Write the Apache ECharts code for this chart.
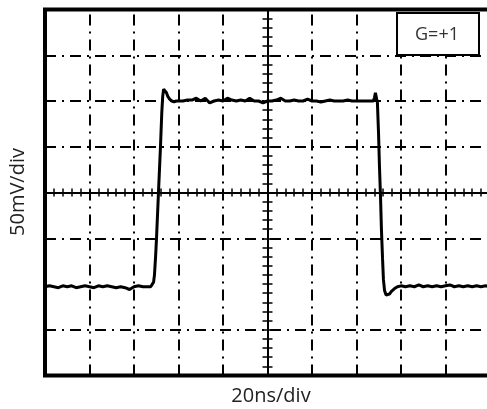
<!DOCTYPE html>
<html>
<head>
<meta charset="utf-8">
<script src="https://cdn.jsdelivr.net/npm/echarts/dist/echarts.min.js"></script>
<style>
	html, body { margin: 0; padding: 0; background: #fff; }
	#scope { width: 487px; height: 409px; }
</style>
</head>
<body>
<div id="scope"></div>
<script>
// scope trace, 20 ns/div and 50 mV/div
var lowLeftNs = [-100, -98, -96, -94, -92, -90, -88, -86, -84, -82, -80, -78, -76, -74, -72, -70, -68, -66, -64, -62, -60, -58, -56, -54];
var lowLeftMv = [-103, -102, -103, -104, -102, -103, -102, -104, -103, -102, -103, -104, -102, -103, -102, -103, -104, -103, -104, -106, -103, -102, -103, -103];

var riseNs = [-52.5, -51.7, -51.2, -50.8, -50.3, -49.9, -49, -48.1, -47.5, -47.1, -46.7, -46.3, -45.9, -45.4, -44.8, -44, -43, -42, -41];
var riseMv = [-103, -102, -98, -90, -70, -51, 0, 50, 88, 105, 113, 115, 113, 109, 105, 102, 100, 99, 100];

var highNs = [-40, -38, -36, -34, -32, -30, -28, -26, -24, -22, -20, -18, -16, -14, -12, -10, -8, -6, -4, -2, 0, 2, 4, 6, 8, 10, 12, 14, 16, 18, 20, 22, 24, 26, 28, 30, 32, 34, 36, 38, 40, 42, 44, 46, 47.6];
var highMv = [100, 100, 101, 101, 103, 100, 103, 98, 100, 101, 100, 103, 101, 100, 101, 100, 103, 100, 100, 98, 100, 100, 101, 103, 100, 100, 101, 100, 100, 102, 100, 100, 99, 100, 101, 100, 100, 100, 101, 100, 100, 100, 100, 100, 100];

var fallNs = [48.1, 48.5, 49, 49.4, 49.9, 50.3, 50.8, 51.2, 51.7, 52.1, 52.6, 53.3, 53.9, 54.8, 55.7, 57.1, 58.4];
var fallMv = [104, 109, 107, 98, 65, 30, -5, -40, -72, -95, -107, -112, -113, -111, -108, -105, -103];

var lowRightNs = [60, 62, 64, 66, 68, 70, 72, 74, 76, 78, 80, 82, 84, 86, 88, 90, 92, 94, 96, 98, 100];
var lowRightMv = [-102, -103, -102, -103, -101, -103, -102, -103, -102, -103, -102, -101, -103, -102, -103, -102, -103, -102, -103, -102, -103];

// graticule: dash-dot lines at these divisions (the -100 mV one is not drawn in the original)
var gridNs = [-80, -60, -40, -20, 20, 40, 60, 80];
var gridMv = [150, 100, 50, -50, -150];

var xLabel = '20ns/div';
var yLabel = '50mV/div';
var boxLabel = 'G=+1';

var timeNs = lowLeftNs.concat(riseNs, highNs, fallNs, lowRightNs);
var signalMv = lowLeftMv.concat(riseMv, highMv, fallMv, lowRightMv);

var trace = [];
for (var i = 0; i < timeNs.length && i < signalMv.length; i++) {
	trace.push([timeNs[i], signalMv[i]]);
}

var gratLines = [];
gridNs.forEach(function (v) { gratLines.push({ xAxis: v }); });
gridMv.forEach(function (v) { gratLines.push({ yAxis: v }); });

// centre cross axes: one axis with ticks inside, a twin with ticks outside
function xAxisAt(inside) {
	return {
		type: 'value', min: -100, max: 100, interval: 4, position: 'bottom',
		axisLine: { show: true, onZero: true, onZeroAxisIndex: 0, lineStyle: { color: '#000', width: 2 } },
		axisTick: { show: true, inside: inside, length: 4, lineStyle: { color: '#000', width: 1.5 } },
		axisLabel: { show: false },
		splitLine: { show: false }
	};
}
function yAxisAt(inside) {
	return {
		type: 'value', min: -200, max: 200, interval: 10, position: 'left',
		axisLine: { show: true, onZero: true, onZeroAxisIndex: 0, lineStyle: { color: '#000', width: 2 } },
		axisTick: { show: true, inside: inside, length: 5, lineStyle: { color: '#000', width: 1.5 } },
		axisLabel: { show: false },
		splitLine: { show: false }
	};
}

var chart = echarts.init(document.getElementById('scope'), null, { renderer: 'canvas' });

var option = {
	animation: false,
	backgroundColor: '#fff',
	grid: {
		left: 45, top: 9.5, width: 445, height: 366,
		show: true, borderColor: '#000', borderWidth: 4,
		backgroundColor: 'transparent',
		outerBoundsMode: 'none'
	},
	xAxis: [xAxisAt(true), xAxisAt(false)],
	yAxis: [yAxisAt(true), yAxisAt(false)],
	series: [
		{
			type: 'line',
			xAxisIndex: 0,
			yAxisIndex: 0,
			data: trace,
			showSymbol: false,
			symbol: 'none',
			z: 3,
			lineStyle: { color: '#000', width: 3 },
			markLine: {
				silent: true,
				z: 1,
				symbol: ['none', 'none'],
				label: { show: false },
				lineStyle: { color: '#000', width: 2, type: [11, 6, 2, 6] },
				data: gratLines
			}
		}
	],
	graphic: [
		{
			type: 'text', x: 18, y: 192, rotation: Math.PI / 2, z: 10,
			style: { text: yLabel, font: '20px "Open Sans"', fill: '#222', align: 'center', verticalAlign: 'middle' }
		},
		{
			type: 'text', x: 271, y: 396, z: 10,
			style: { text: xLabel, font: '20px "Open Sans"', fill: '#222', align: 'center', verticalAlign: 'middle' }
		},
		{
			type: 'rect', z: 10,
			shape: { x: 397, y: 13, width: 82, height: 42 },
			style: { fill: '#fff', stroke: '#000', lineWidth: 2 }
		},
		{
			type: 'text', x: 437, y: 35, z: 11,
			style: { text: boxLabel, font: '18px "Open Sans"', fill: '#333', align: 'center', verticalAlign: 'middle' }
		}
	]
};

chart.setOption(option);
</script>
</body>
</html>
